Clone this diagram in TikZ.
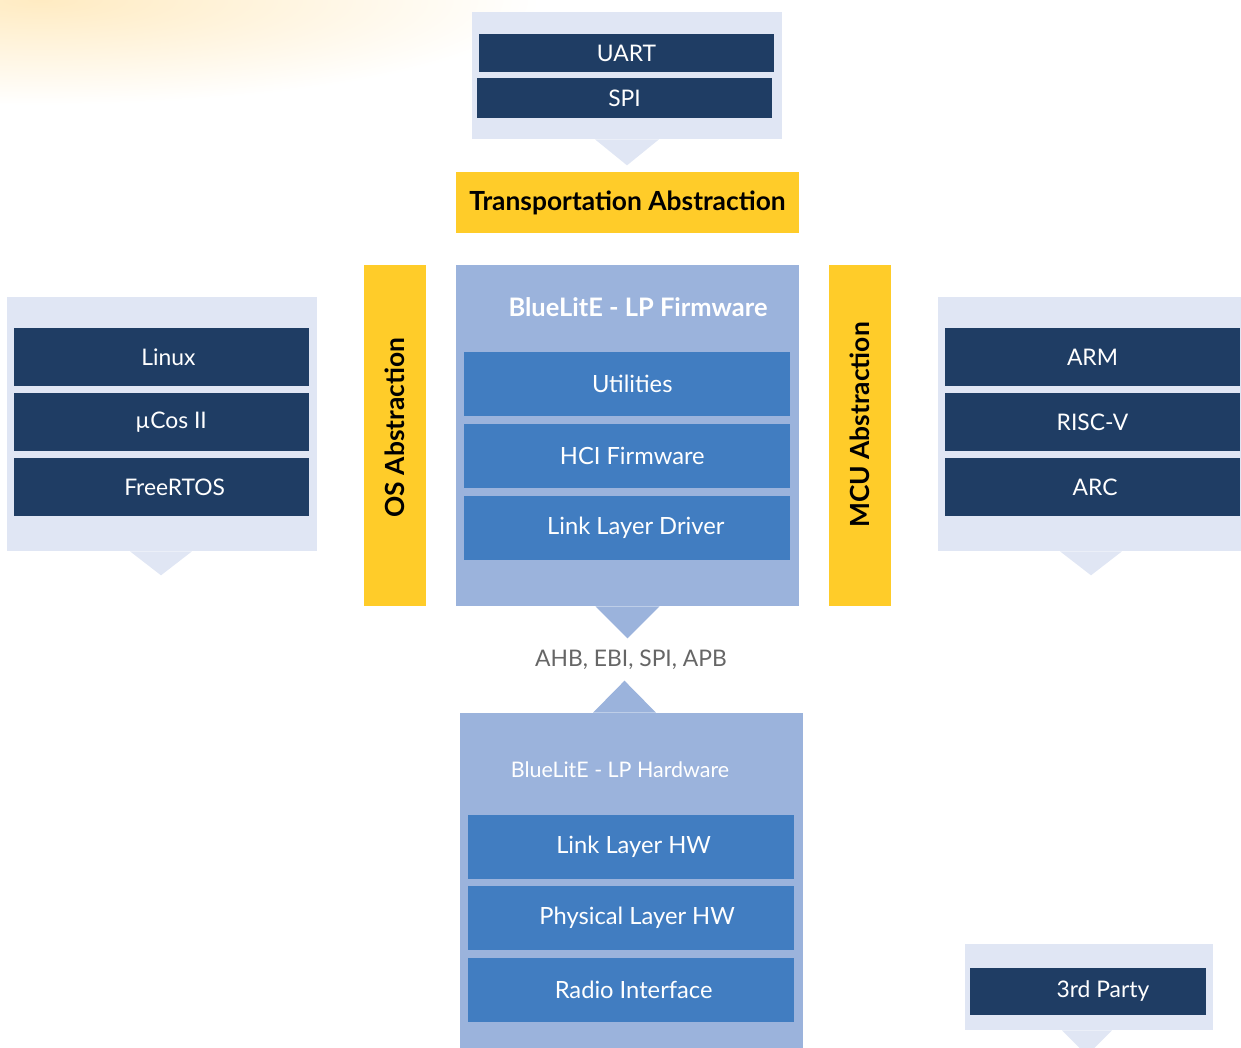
\documentclass[tikz,border=0pt]{standalone}
\usepackage{fontspec}
\setmainfont{Lato}
\definecolor{navy}{HTML}{1F3D64}
\definecolor{paleblue}{HTML}{E0E6F4}
\definecolor{fwblue}{HTML}{9BB3DC}
\definecolor{midblue}{HTML}{417DC1}
\definecolor{gold}{HTML}{FFCC29}
\definecolor{busgray}{HTML}{666666}
\definecolor{glow}{HTML}{FFEBC2}

\begin{document}
\begin{tikzpicture}[x=0.02cm, y=-0.02cm,
    callout/.style={rectangle, fill=paleblue, inner sep=0pt},
    item/.style={rectangle, fill=navy, text=white, inner sep=0pt,
                 minimum width=5.9cm, minimum height=1.16cm,
                 font=\fontsize{13}{15}\selectfont},
    layer/.style={rectangle, fill=midblue, text=white, inner sep=0pt,
                  minimum width=6.52cm, minimum height=1.28cm,
                  font=\fontsize{13.5}{16}\selectfont},
    stack/.style={rectangle, fill=fwblue, inner sep=0pt,
                  minimum width=6.86cm, minimum height=6.82cm},
    bar/.style={rectangle, fill=gold, text=black, inner sep=0pt,
                font=\bfseries\fontsize{15}{18}\selectfont}
]
    \useasboundingbox (0,0) rectangle (1241,1048);
    \shade[inner color=glow, outer color=white]
        (40,0) ellipse [x radius=10cm, y radius=2.1cm];

    \node[callout, minimum width=6.2cm, minimum height=2.54cm] (tc) at (627,75.5) {};
    \fill[paleblue] (tc.south) ++(-32,0) -- ++(64,0) -- ++(-32,26) -- cycle;
    \node[item, minimum height=0.76cm] (uart) at (626.5,53) {UART};
    \node[item, minimum height=0.8cm] (spi) at (624.5,98) {SPI};

    \node[bar, minimum width=6.86cm, minimum height=1.22cm] (trans) at (627.5,202.5) {Transportation Abstraction};

    \node[bar, rotate=90, minimum width=6.82cm, minimum height=1.24cm] (os) at (395,435.5) {\hspace*{9pt}OS Abstraction};
    \node[bar, rotate=90, minimum width=6.82cm, minimum height=1.24cm] (mcu) at (860,435.5) {\hspace*{12pt}MCU Abstraction};

    \node[stack] (fw) at (627.5,435.5) {};
    \fill[fwblue] (fw.south) ++(-32,0) -- ++(64,0) -- ++(-32,32) -- cycle;
    \node[text=white, font=\bfseries\fontsize{14.5}{17}\selectfont] (fwt) at (638,307) {BlueLitE - LP Firmware};
    \node[layer] (util) at (627,384) {\hspace*{6pt}Utilities};
    \node[layer] (hci) at (627,456) {\hspace*{6pt}HCI Firmware};
    \node[layer] (lld) at (627,528) {\hspace*{10pt}Link Layer Driver};

    \node[callout, minimum width=6.2cm, minimum height=5.08cm] (lc) at (162,424) {};
    \fill[paleblue] (lc.south) ++(-32,0) -- ++(62,0) -- ++(-31,24) -- cycle;
    \node[item] (linux) at (161.5,357) {\hspace*{8pt}Linux};
    \node[item] (ucos) at (161.5,422) {\hspace*{11pt}µCos II};
    \node[item] (frtos) at (161.5,487) {\hspace*{15pt}FreeRTOS};

    \node[callout, minimum width=6.2cm, minimum height=5.08cm] (rc) at (1093,424) {};
    \fill[paleblue] (rc.south) ++(-33,0) -- ++(62,0) -- ++(-31,24) -- cycle;
    \node[item] (arm) at (1092.5,357) {ARM};
    \node[item] (riscv) at (1092.5,422) {RISC-V};
    \node[item] (arc) at (1092.5,487) {\hspace*{3pt}ARC};

    \node[text=busgray, font=\fontsize{13}{15}\selectfont] (bus) at (631,660) {AHB, EBI, SPI, APB};

    \node[stack] (hw) at (631.5,883.5) {};
    \fill[fwblue] (hw.north) ++(-38.5,0) -- ++(63,0) -- ++(-31.5,-32) -- cycle;
    \node[text=white, font=\fontsize{12.2}{15}\selectfont] (hwt) at (620,770) {BlueLitE - LP Hardware};
    \node[layer] (llhw) at (631,847) {\hspace*{3pt}Link Layer HW};
    \node[layer] (phy) at (631,918) {\hspace*{7pt}Physical Layer HW};
    \node[layer] (radio) at (631,990) {\hspace*{3pt}Radio Interface};

    \node[callout, minimum width=4.96cm, minimum height=1.72cm] (pc) at (1089,987) {};
    \fill[paleblue] (pc.south) ++(-27,0) -- ++(50,0) -- ++(-25,25) -- cycle;
    \node[item, minimum width=4.72cm, minimum height=0.94cm] (third) at (1088,991.5) {\hspace*{17pt}3rd Party};
\end{tikzpicture}
\end{document}
